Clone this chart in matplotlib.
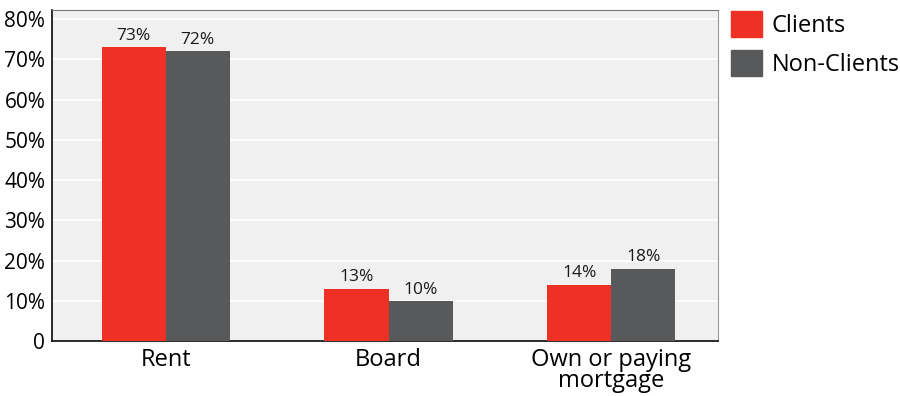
"""Grouped bar chart of housing situation for clients and non-clients."""

import matplotlib

matplotlib.use("Agg")

import matplotlib.pyplot as plt
import numpy as np
from matplotlib.patches import Patch

RED = "#EE3124"
GREY = "#58595B"
PLOT_BG = "#F0F0F0"

categories = ["Rent", "Board", "Own or paying\nmortgage"]
clients = [73, 13, 14]
non_clients = [72, 10, 18]
y_ticks = [0, 10, 20, 30, 40, 50, 60, 70, 80]
y_tick_labels = ["0", "10%", "20%", "30%", "40%", "50%", "60%", "70%", "80%"]

plt.rcParams["font.family"] = ["Open Sans", "DejaVu Sans"]


def main():
    fig = plt.figure(figsize=(9, 3.96), dpi=100)
    ax = fig.add_axes([0.058, 0.139, 0.74, 0.836])
    ax.set_facecolor(PLOT_BG)

    x = np.arange(len(categories))
    width = 0.288
    bars_c = ax.bar(x - width / 2, clients, width, color=RED, zorder=3)
    bars_n = ax.bar(x + width / 2, non_clients, width, color=GREY, zorder=3)

    for bars, values in ((bars_c, clients), (bars_n, non_clients)):
        for bar, v in zip(bars, values):
            ax.text(bar.get_x() + bar.get_width() / 2, v + 0.8, f"{v}%",
                    ha="center", va="bottom", fontsize=12.5, color="#1a1a1a", zorder=4)

    ax.set_xlim(-0.51, 2.48)
    ax.set_ylim(0, 82.3)
    ax.set_yticks(y_ticks)
    ax.set_yticklabels(y_tick_labels, fontsize=15)
    ax.set_xticks(x)
    ax.set_xticklabels(categories, fontsize=17, linespacing=0.85)
    ax.tick_params(axis="both", length=0)
    ax.tick_params(axis="y", pad=5)
    ax.tick_params(axis="x", pad=5)
    ax.yaxis.grid(True, color="white", linewidth=1.2, zorder=1)
    ax.set_axisbelow(True)

    ax.spines["left"].set_color("#1a1a1a")
    ax.spines["bottom"].set_color("#1a1a1a")
    ax.spines["left"].set_linewidth(1.3)
    ax.spines["bottom"].set_linewidth(1.3)
    ax.spines["top"].set_color("#777777")
    ax.spines["right"].set_color("#999999")

    handles = [Patch(color=RED, label="Clients"), Patch(color=GREY, label="Non-Clients")]
    fig.legend(handles=handles, loc="upper left", bbox_to_anchor=(0.812, 0.972),
               frameon=False, fontsize=17, handlelength=1.32, handleheight=1.32,
               labelspacing=0.5, handletextpad=0.42, borderaxespad=0, borderpad=0)

    fig.savefig("out.png", dpi=100, facecolor="white")
    plt.close(fig)


if __name__ == "__main__":
    main()
